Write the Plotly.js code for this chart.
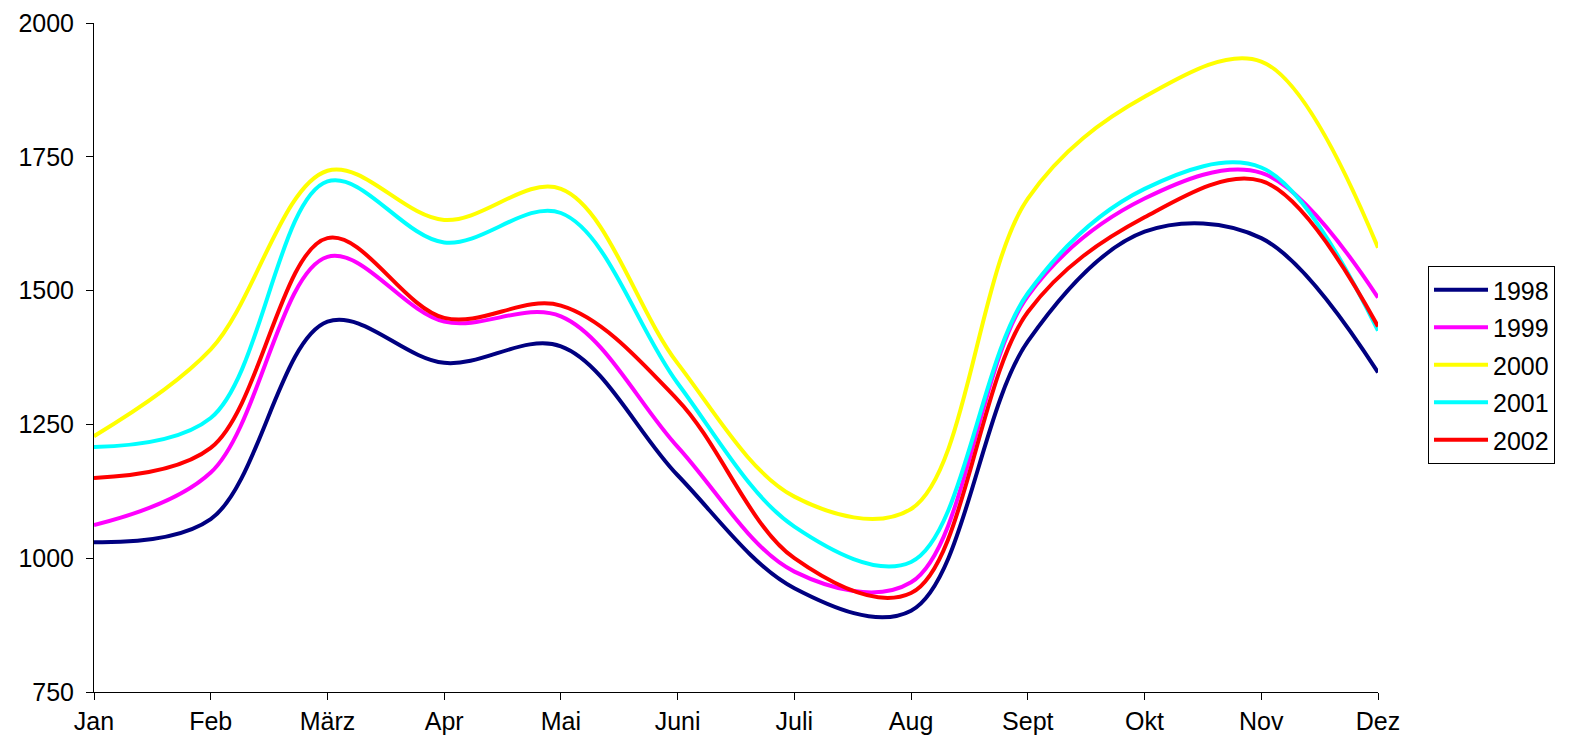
<!DOCTYPE html>
<html>
<head>
<meta charset="utf-8">
<script src="https://cdn.plot.ly/plotly-3.0.1.min.js"></script>
<style>
  html, body { margin: 0; padding: 0; background: #fff; width: 1584px; height: 754px; overflow: hidden; }
  #chart { width: 1584px; height: 754px; overflow: hidden; display: block; }
</style>
</head>
<body>
<div id="chart"></div>
<script>
const months = ['Jan','Feb','März','Apr','Mai','Juni','Juli','Aug','Sept','Okt','Nov','Dez'];
const yTicks = [750, 1000, 1250, 1500, 1750, 2000];

const y1998 = [1030, 1073, 1442, 1365, 1396, 1155, 944, 902, 1405, 1610, 1598, 1347];
const y1999 = [1062, 1160, 1563, 1442, 1452, 1208, 975, 955, 1490, 1672, 1720, 1487];
const y2000 = [1228, 1390, 1724, 1632, 1690, 1364, 1115, 1092, 1672, 1862, 1928, 1580];
const y2001 = [1208, 1262, 1704, 1590, 1645, 1327, 1059, 993, 1495, 1690, 1730, 1425];
const y2002 = [1150, 1206, 1598, 1449, 1472, 1296, 1000, 935, 1460, 1637, 1705, 1433];

const seriesNames = ['1998', '1999', '2000', '2001', '2002'];
const seriesValues = [y1998, y1999, y2000, y2001, y2002];
const seriesColors = ['#000080', '#FF00FF', '#FFFF00', '#00FFFF', '#FF0000'];

const traces = seriesNames.map((name, i) => ({
  type: 'scatter',
  mode: 'lines',
  name: name,
  x: months,
  y: seriesValues[i],
  legendgroup: 'g' + i,
  line: { color: seriesColors[i], width: 4, shape: 'spline', smoothing: 1 }
}));

const layout = {
  width: 1584,
  height: 754,
  margin: { l: 94, r: 206, t: 23, b: 62, pad: 0, autoexpand: false },
  paper_bgcolor: '#ffffff',
  plot_bgcolor: '#ffffff',
  font: { family: 'Liberation Sans, Arial, sans-serif', size: 25, color: '#000000' },
  showlegend: true,
  legend: {
    x: (1428 - 94) / 1284, y: (692 - 266) / 669, xanchor: 'left', yanchor: 'top',
    bordercolor: '#000000', borderwidth: 1,
    font: { size: 25, color: '#000000' },
    traceorder: 'grouped', tracegroupgap: 2,
    itemwidth: 54,
    entrywidth: 130, entrywidthmode: 'pixels'
  },
  xaxis: {
    type: 'category',
    range: [0, months.length - 1],
    automargin: false,
    showgrid: false, zeroline: false,
    showline: true, linecolor: '#000000', linewidth: 1,
    ticks: 'outside', ticklen: 7, tickcolor: '#000000', tickwidth: 1,
    tickfont: { size: 25 },
    fixedrange: true
  },
  yaxis: {
    range: [750, 2000],
    tickvals: yTicks,
    automargin: false,
    showgrid: false, zeroline: false,
    showline: true, linecolor: '#000000', linewidth: 1,
    ticks: 'outside', ticklen: 7, tickcolor: '#000000', tickwidth: 1,
    tickfont: { size: 25 },
    ticklabelstandoff: 7,
    fixedrange: true
  }
};

Plotly.newPlot('chart', traces, layout, { staticPlot: true, displayModeBar: false });
</script>
</body>
</html>
